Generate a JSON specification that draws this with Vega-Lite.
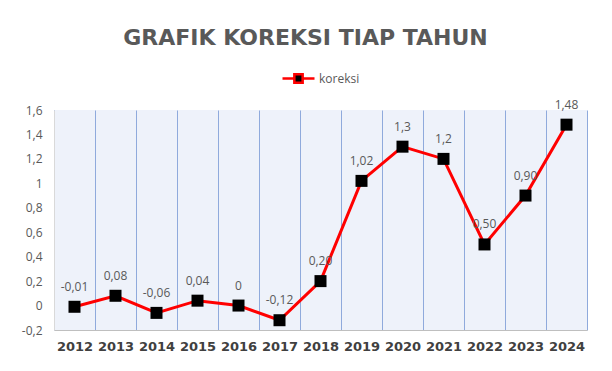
{
  "$schema": "https://vega.github.io/schema/vega-lite/v6.json",
  "width": 533,
  "height": 220,
  "autosize": {"type": "none"},
  "padding": {"left": 54, "top": 110, "right": 25, "bottom": 41},
  "background": "white",
  "title": {
    "text": "GRAFIK KOREKSI TIAP TAHUN",
    "font": "DejaVu Sans",
    "fontSize": 22,
    "fontWeight": "bold",
    "color": "#595959",
    "anchor": "middle",
    "dx": -15,
    "offset": 11
  },
  "data": {
    "values": [
      {"year": "2012", "koreksi": -0.01, "label": "-0,01"},
      {"year": "2013", "koreksi": 0.08, "label": "0,08"},
      {"year": "2014", "koreksi": -0.06, "label": "-0,06"},
      {"year": "2015", "koreksi": 0.04, "label": "0,04"},
      {"year": "2016", "koreksi": 0.0, "label": "0"},
      {"year": "2017", "koreksi": -0.12, "label": "-0,12"},
      {"year": "2018", "koreksi": 0.2, "label": "0,20"},
      {"year": "2019", "koreksi": 1.02, "label": "1,02"},
      {"year": "2020", "koreksi": 1.3, "label": "1,3"},
      {"year": "2021", "koreksi": 1.2, "label": "1,2"},
      {"year": "2022", "koreksi": 0.5, "label": "0,50"},
      {"year": "2023", "koreksi": 0.9, "label": "0,90"},
      {"year": "2024", "koreksi": 1.48, "label": "1,48"}
    ]
  },
  "encoding": {
    "x": {
      "field": "year",
      "type": "ordinal",
      "scale": {"paddingInner": 0, "paddingOuter": 0},
      "axis": {
        "title": null,
        "labelAngle": 0,
        "labelFont": "DejaVu Sans",
        "labelFontWeight": "bold",
        "labelFontSize": 13,
        "labelColor": "#404040",
        "labelPadding": 10,
        "ticks": false,
        "tickBand": "extent",
        "grid": true,
        "gridColor": "#8FAADC",
        "gridWidth": 1,
        "domainColor": "#BFBFBF",
        "domainWidth": 1
      }
    },
    "y": {
      "field": "koreksi",
      "type": "quantitative",
      "scale": {"domain": [-0.2, 1.6], "nice": false, "zero": false},
      "axis": {
        "title": null,
        "values": [-0.2, 0, 0.2, 0.4, 0.6, 0.8, 1, 1.2, 1.4, 1.6],
        "labelExpr": "replace(replace(format(datum.value, '.1~f'), '.', ','), '\u2212', '-')",
        "labelFont": "Open Sans",
        "labelFontSize": 12,
        "labelColor": "#595959",
        "labelPadding": 12,
        "ticks": false,
        "grid": false,
        "domain": true,
        "domainColor": "#D9D9D9"
      }
    }
  },
  "layer": [
    {
      "mark": {"type": "line", "strokeWidth": 3},
      "encoding": {
        "color": {
          "datum": "koreksi",
          "scale": {"range": ["#FF0000"]},
          "legend": {
            "title": null,
            "orient": "top",
            "offset": 22,
            "symbolType": "M-1,0L-0.3,0M0.3,0L1,0M-0.26,-0.26L0.26,-0.26L0.26,0.26L-0.26,0.26Z",
            "symbolSize": 1024,
            "symbolStrokeWidth": 2.5,
            "labelFont": "Open Sans",
            "labelFontSize": 12,
            "labelColor": "#595959",
            "labelOffset": 3,
            "encode": {
              "symbols": {
                "update": {
                  "fill": {"value": "#000000"},
                  "stroke": {"value": "#FF0000"},
                  "strokeWidth": {"value": 2.5},
                  "opacity": {"value": 1}
                }
              }
            }
          }
        }
      }
    },
    {
      "mark": {"type": "square", "size": 144, "color": "#000000", "filled": true, "opacity": 1}
    },
    {
      "mark": {
        "type": "text",
        "dy": -20,
        "font": "Open Sans",
        "fontSize": 12,
        "color": "#595959",
        "baseline": "middle",
        "align": "center"
      },
      "encoding": {"text": {"field": "label"}}
    }
  ],
  "config": {
    "view": {"fill": "#EEF2FA", "stroke": null},
    "legend": {"layout": {"top": {"anchor": "middle"}}}
  }
}
